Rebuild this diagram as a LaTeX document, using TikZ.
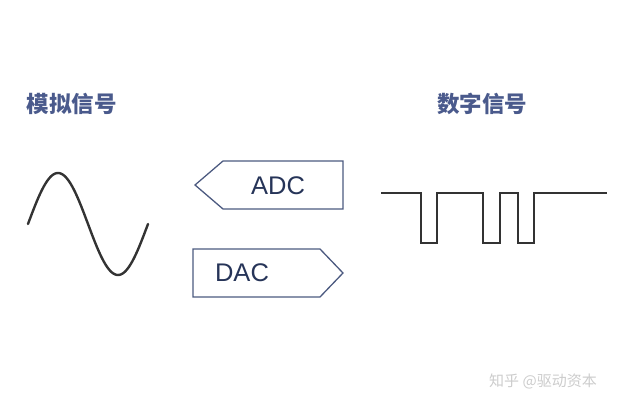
\documentclass[tikz,border=0pt]{standalone}
\usepackage{fontspec}
\setmainfont{Liberation Sans}
\newfontfamily\cjk{Noto Sans CJK SC}
\usetikzlibrary{arrows.meta}
\definecolor{titleblue}{HTML}{4A5A8C}
\definecolor{boxblue}{HTML}{4C5A80}
\definecolor{textnavy}{HTML}{263458}
\definecolor{wave}{HTML}{333333}

\begin{document}
\begin{tikzpicture}[x=1pt,y=-1pt]
        \useasboundingbox (0,0) rectangle (625,409);

        \begin{scope}[every node/.style={font=\cjk\bfseries\fontsize{22.5}{22.5}\selectfont,text=titleblue}]
            \node (analog) at (72,104) {模拟信号};
            \node (digital) at (482,104) {数字信号};
        \end{scope}

        % converter boxes
        \begin{scope}[draw=boxblue, line width=1.3pt, line join=miter]
            \draw (195,185) -- (223,161) -- (343,161) -- (343,209) -- (223,209) -- cycle;
            \draw (193,249) -- (320,249) -- (343,273) -- (320,297) -- (193,297) -- cycle;
        \end{scope}

        \begin{scope}[every node/.style={font=\fontsize{25.5}{25.5}\selectfont,text=textnavy}]
            \node (adc) at (278,186) {ADC};
            \node (dac) at (242,273) {DAC};
        \end{scope}

        % signals
        \draw[wave, line width=2.4pt, line cap=round]
            plot[domain=28:148, samples=80, smooth] (\x,{224-51*sin(3*(\x-28))});
        \draw[wave, line width=2pt]
            (381,193) -- (421,193) -- (421,243) -- (437,243) -- (437,193)
            -- (483,193) -- (483,243) -- (500,243) -- (500,193)
            -- (518,193) -- (518,243) -- (534,243) -- (534,193) -- (607,193);

        \node[font=\cjk\fontsize{15}{15}\selectfont, text=black!20] (mark) at (543,381) {知乎 @驱动资本};
    \end{tikzpicture}
\end{document}
